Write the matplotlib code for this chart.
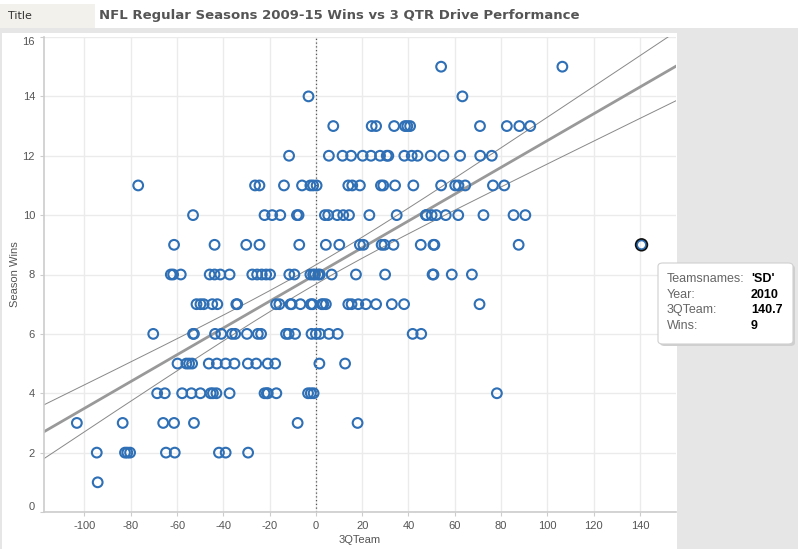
import numpy as np
import matplotlib
matplotlib.use("Agg")
import matplotlib.pyplot as plt
from matplotlib.patches import Rectangle, FancyBboxPatch

# 3QTeam values of each team-season, grouped by season wins
q3_w15 = [54.1, 106.5]
q3_w14 = [-3.2, 63.3]
q3_w13 = [7.5, 24.1, 26.0, 33.8, 38.5, 39.5, 40.7, 70.9, 82.5, 87.9, 92.6]
q3_w12 = [-11.6, 5.6, 11.5, 15.2, 20.2, 23.8, 27.7, 30.6, 31.3, 38.2, 41.4,
          43.9, 49.6, 55.1, 62.3, 71.0, 76.0]
q3_w11 = [-76.8, -26.3, -24.4, -13.8, -6.0, -2.4, -1.2, 0.3, 14.0, 15.7, 19.0,
          28.1, 29.1, 34.2, 42.1, 54.1, 60.2, 61.6, 64.5, 76.5, 81.4]
q3_w10 = [-53.1, -22.2, -18.9, -15.4, -8.2, -7.5, 3.9, 5.3, 9.2, 11.8, 14.3,
          23.1, 34.9, 47.5, 47.8, 50.0, 52.0, 56.1, 61.5, 72.4, 85.4, 90.5]
q3_w9 = [-61.3, -43.8, -30.1, -24.4, -7.2, 4.3, 10.1, 19.0, 20.5, 28.4, 29.6,
         33.5, 45.3, 50.8, 51.2, 87.6, 140.7]
q3_w8 = [-62.7, -61.7, -58.4, -45.9, -43.8, -41.3, -37.3, -27.5, -25.4, -23.4,
         -21.5, -19.8, -11.5, -9.3, -2.4, -1.2, -0.4, 1.0, 1.7, 6.8, 17.3,
         29.9, 50.4, 50.8, 58.7, 67.4]
q3_w7 = [-51.6, -49.9, -48.5, -44.8, -42.6, -34.4, -34.0, -17.2, -15.8, -11.0,
         -10.5, -6.7, -2.2, -1.4, 2.5, 3.2, 4.3, 14.0, 15.4, 18.3, 21.6, 26.0,
         32.8, 38.1, 70.7]
q3_w6 = [-70.3, -53.1, -52.7, -43.6, -40.9, -36.3, -34.9, -29.8, -25.1, -23.7,
         -12.9, -11.8, -9.0, -1.9, 0.0, 1.7, 5.6, 9.4, 41.8, 45.5]
q3_w5 = [-59.8, -56.0, -54.8, -53.5, -46.3, -42.8, -39.0, -35.2, -29.4, -25.8,
         -20.8, -17.6, 1.5, 12.6]
q3_w4 = [-68.6, -65.3, -57.8, -53.8, -49.9, -45.5, -44.5, -43.0, -37.3, -22.2,
         -21.2, -20.8, -17.1, -3.4, -2.2, -1.0, 78.2]
q3_w3 = [-103.3, -83.5, -66.0, -61.3, -52.7, -7.9, 18.0]
q3_w2 = [-94.7, -82.5, -81.5, -80.3, -64.8, -61.0, -41.9, -39.0, -29.3]
q3_w1 = [-94.3]

rows = [(15, q3_w15), (14, q3_w14), (13, q3_w13), (12, q3_w12), (11, q3_w11),
        (10, q3_w10), (9, q3_w9), (8, q3_w8), (7, q3_w7), (6, q3_w6),
        (5, q3_w5), (4, q3_w4), (3, q3_w3), (2, q3_w2), (1, q3_w1)]

x = np.array([v for w, vals in rows for v in vals])
y = np.array([w for w, vals in rows for v in vals], dtype=float)

# highlighted point (tooltip)
sel_team, sel_year, sel_q3, sel_wins = "SD", 2010, 140.7, 9

blue = "#2e6fb5"
grey_text = "#555555"
plt.rcParams["axes.unicode_minus"] = False

fig = plt.figure(figsize=(7.98, 5.49), dpi=100, facecolor="#e6e6e6")

# white title bar and white panel
fig.patches.append(Rectangle((0, 1 - 28 / 549), 1, 28 / 549, transform=fig.transFigure,
                             facecolor="white", edgecolor="none", zorder=-2))
fig.patches.append(Rectangle((0, 1 - 28 / 549), 95 / 798, 24 / 549, transform=fig.transFigure,
                             facecolor="#f2f1ec", edgecolor="none", zorder=-1))
fig.patches.append(Rectangle((2 / 798, 0), 675 / 798, 1 - 33 / 549, transform=fig.transFigure,
                             facecolor="white", edgecolor="none", zorder=-2))

fig.text(8 / 798, 1 - 16 / 549, "Title", fontsize=8, color="#333333", va="center",
         fontfamily="DejaVu Sans")
fig.text(99 / 798, 1 - 16 / 549, "NFL Regular Seasons 2009-15 Wins vs 3 QTR Drive Performance",
         fontsize=9.5, color=grey_text, va="center", fontweight="bold",
         fontfamily="DejaVu Sans")

ax = fig.add_axes([44 / 798, 1 - 512 / 549, 632 / 798, 475 / 549])
ax.set_facecolor("white")
ax.set_zorder(1)

# regression line with 95% confidence band
slope, intercept = np.polyfit(x, y, 1)
n = len(x)
resid = y - (slope * x + intercept)
s = np.sqrt(np.sum(resid ** 2) / (n - 2))
sxx = np.sum((x - x.mean()) ** 2)
xs = np.linspace(-117.5, 155.6, 200)
fit = slope * xs + intercept
band = 1.97 * s * np.sqrt(1 / n + (xs - x.mean()) ** 2 / sxx)
ax.plot(xs, fit, color="#999999", lw=2, zorder=2)
ax.plot(xs, fit + band, color="#888888", lw=0.7, zorder=2)
ax.plot(xs, fit - band, color="#888888", lw=0.7, zorder=2)

ax.axvline(0, color="#555555", lw=0.9, ls=(0, (1, 2)), zorder=1)

mask = ~((x == sel_q3) & (y == sel_wins))
ax.scatter(x[mask], y[mask], s=49, facecolors="none", edgecolors=blue,
           linewidths=1.5, zorder=3)
ax.scatter([sel_q3], [sel_wins], s=62, facecolors="none", edgecolors="#111111",
           linewidths=1.8, zorder=4)
ax.scatter([sel_q3], [sel_wins], s=38, facecolors="none", edgecolors=blue,
           linewidths=1.1, zorder=5)

ax.set_xlim(-117.5, 155.6)
ax.set_ylim(0, 16)
ax.set_xticks(np.arange(-100, 141, 20))
ax.set_yticks(np.arange(0, 17, 2))
ax.grid(True, color="#ebebeb", lw=1)
ax.set_axisbelow(True)
for side in ["top", "right"]:
    ax.spines[side].set_visible(False)
for side in ["left", "bottom"]:
    ax.spines[side].set_color("#cccccc")
    ax.spines[side].set_linewidth(1.2)
ax.tick_params(colors="#cccccc", labelcolor=grey_text, labelsize=8, length=3)
for lbl in ax.get_xticklabels() + ax.get_yticklabels():
    lbl.set_fontfamily("Liberation Sans")
ylabels = ax.get_yticklabels()
ylabels[0].set_va("bottom")
ylabels[-1].set_va("top")
ax.set_xlabel("3QTeam", fontsize=8, color=grey_text, fontfamily="Liberation Sans", labelpad=3)
ax.set_ylabel("Season Wins", fontsize=8, color=grey_text, fontfamily="Liberation Sans", labelpad=2)

# tooltip
fig.patches.append(FancyBboxPatch((660 / 798, 1 - 346 / 549), 135 / 798, 81 / 549,
                                  boxstyle="round,pad=0,rounding_size=0.006",
                                  transform=fig.transFigure, facecolor="#cfcfcf",
                                  edgecolor="none", zorder=5))
fig.patches.append(FancyBboxPatch((658 / 798, 1 - 344 / 549), 135 / 798, 81 / 549,
                                  boxstyle="round,pad=0,rounding_size=0.006",
                                  transform=fig.transFigure, facecolor="white",
                                  edgecolor="#d0d0d0", lw=0.8, zorder=6))
tip_keys = ["Teamsnames:", "Year:", "3QTeam:", "Wins:"]
tip_vals = ["'%s'" % sel_team, str(sel_year), str(sel_q3), str(sel_wins)]
for i, (k, v) in enumerate(zip(tip_keys, tip_vals)):
    yy = 1 - (279 + i * 15.7) / 549
    fig.text(667 / 798, yy, k, fontsize=9, color="#666666", va="center",
             fontfamily="Liberation Sans", zorder=7)
    fig.text(751 / 798, yy, v, fontsize=9, color="black", va="center",
             fontweight="bold", fontfamily="Liberation Sans", zorder=7)

fig.savefig("out.png", dpi=100, facecolor=fig.get_facecolor())
